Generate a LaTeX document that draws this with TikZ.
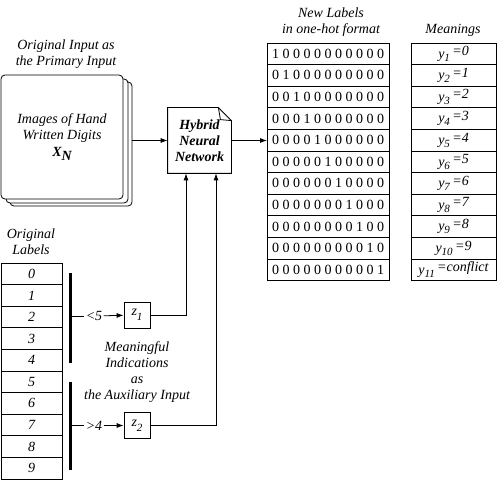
\documentclass[tikz,border=0pt]{standalone}
\usepackage{fontspec}
\setmainfont{Liberation Serif}
\usetikzlibrary{arrows.meta}
\newcommand{\fs}{\fontsize{14}{16}\selectfont}
\tikzset{
  arr/.style={-{Latex[length=7pt,width=5pt]}},
  cell/.style={draw, minimum height=21.6pt, inner sep=0pt, outer sep=0pt},
  page/.style={draw, fill=white, rounded corners=4pt, minimum width=122pt, minimum height=124pt},
  lbl/.style={font=\fs\itshape, align=center},
}
\newcommand{\ylab}[2]{\textit{y}\raisebox{-3pt}{\fontsize{11}{11}\selectfont\itshape #1}\,\raisebox{2.5pt}{\itshape =#2}}
\newcommand{\zlab}[1]{\raisebox{2pt}{\textit{z}}\raisebox{-3pt}{\fontsize{11}{11}\selectfont\itshape #1}}

\begin{document}
\begin{tikzpicture}[x=1pt,y=-1pt,font=\fs,line width=0.8pt]
\useasboundingbox (0,0) rectangle (498,481);

% input images
\node[page] (img3) at (71,144) {};
\node[page] (img2) at (67,141) {};
\node[page, lbl] (img) at (62,137)
  {Images of Hand\\Written Digits\\[1pt]{\bfseries X\raisebox{-4pt}{N}}};
\node[lbl] (inhead) at (66,54) {Original Input as\\the Primary Input};

% network
\node[minimum width=63pt, minimum height=65pt, align=center, font=\fs\bfseries\itshape] (nn) at (199.5,140.5) {Hybrid\\Neural\\Network};
\draw (nn.north west) -- ([xshift=-13pt]nn.north east) -- ([yshift=-13pt]nn.north east)
  -- (nn.south east) -- (nn.south west) -- cycle;
\draw ([xshift=-13pt]nn.north east) -- ([xshift=-11pt,yshift=-12pt]nn.north east) -- ([yshift=-13pt]nn.north east);

% new labels
\foreach \s [count=\i] in {1 0 0 0 0 0 0 0 0 0 0,0 1 0 0 0 0 0 0 0 0 0,0 0 1 0 0 0 0 0 0 0 0,
  0 0 0 1 0 0 0 0 0 0 0,0 0 0 0 1 0 0 0 0 0 0,0 0 0 0 0 1 0 0 0 0 0,0 0 0 0 0 0 1 0 0 0 0,
  0 0 0 0 0 0 0 1 0 0 0,0 0 0 0 0 0 0 0 1 0 0,0 0 0 0 0 0 0 0 0 1 0,0 0 0 0 0 0 0 0 0 0 1}
  \node[cell, minimum width=122pt] (h\i) at (328,32.2+21.6*\i) {\s};
\node[lbl] (nlhead) at (331,22) {New Labels\\in one-hot format};

% meanings
\foreach \a/\b [count=\i] in {1/0,2/1,3/2,4/3,5/4,6/5,7/6,8/7,9/8,10/9,11/conflict}
  \node[cell, minimum width=85pt] (m\i) at (453.5,32.2+21.6*\i) {\ylab{\a}{\b}};
\node[lbl] (mhead) at (453,30) {Meanings};

% original labels
\foreach \d in {0,...,9}
  \node[cell, minimum width=61pt, font=\fs\itshape] (o\d) at (31.5,273.8+21.6*\d) {\d};
\node[lbl] (olhead) at (31,242) {Original\\Labels};

\draw[line width=3pt] (70,273) -- (70,363);
\draw[line width=3pt] (70,382) -- (70,470);
\coordinate (b1) at (71.5,316);
\coordinate (b2) at (71.5,425.5);

\node[lbl, inner sep=1pt] (lt) at (94,316) {<5};
\node[lbl, inner sep=1pt] (gt) at (94,425.5) {>4};
\node[draw, minimum size=26pt, inner sep=0pt] (z1) at (137,315) {\zlab{1}};
\node[draw, minimum size=26pt, inner sep=0pt] (z2) at (137,425.5) {\zlab{2}};
\node[lbl] (aux) at (137,372) {Meaningful\\Indications\\as\\the Auxiliary Input};

% connectors
\draw[arr] (img3.east |- nn.west) -- (nn.west);
\draw[arr] (nn.east) -- (nn.east -| h5.west);
\draw (b1) -- (lt);
\draw[arr] (lt) -- (z1);
\draw (b2) -- (gt);
\draw[arr] (gt) -- (z2);
\draw[arr] (z1) -| ([xshift=-13.5pt]nn.south);
\draw[arr] (z2) -| ([xshift=16.5pt]nn.south);

\end{tikzpicture}
\end{document}
